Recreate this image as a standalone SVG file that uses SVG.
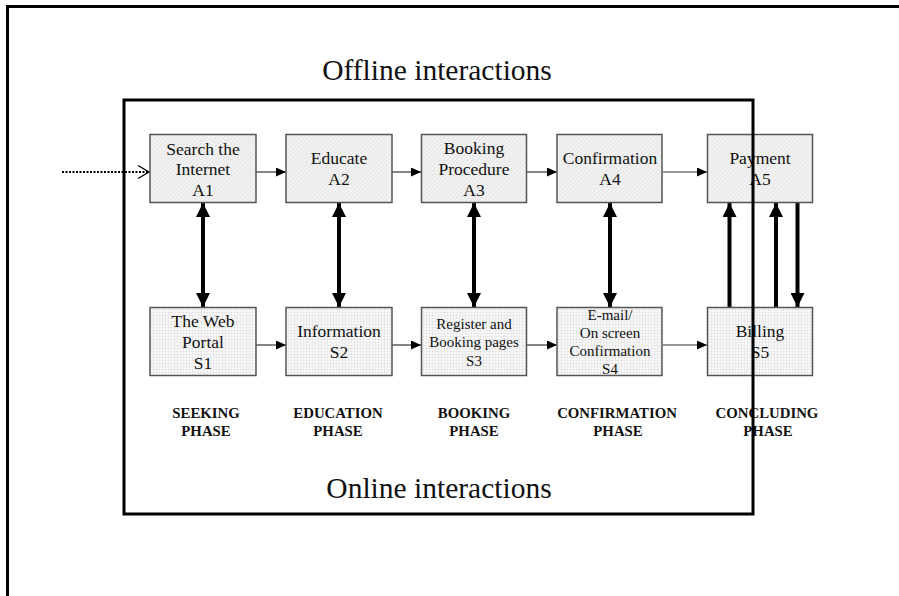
<svg xmlns="http://www.w3.org/2000/svg" width="899" height="596" viewBox="0 0 899 596">
<style>
  .t { font-family: "Liberation Serif", "Times New Roman", serif; fill: #111; text-anchor: middle; }
  .big { font-size: 17.5px; }
  .small { font-size: 15px; }
  .phase { font-family: "Liberation Serif", "Times New Roman", serif; font-size: 14.8px; font-weight: bold; fill: #111; text-anchor: middle; }
  .title { font-family: "Liberation Serif", "Times New Roman", serif; font-size: 29.5px; fill: #111; text-anchor: middle; }
  .boxA { fill: url(#hatch); stroke: #555; stroke-width: 1.5; }
  .boxS { fill: url(#grid); stroke: #555; stroke-width: 1.5; }
  .thin { stroke: #333; stroke-width: 1.2; fill: none; }
  .thick { stroke: #000; stroke-width: 4; fill: none; }
</style>
<defs>
  <pattern id="hatch" width="3" height="3" patternUnits="userSpaceOnUse" patternTransform="rotate(45)">
    <rect width="3" height="3" fill="#f3f3f3"/>
    <line x1="0" y1="0" x2="0" y2="3" stroke="#d6d6d6" stroke-width="1"/>
  </pattern>
  <pattern id="grid" width="3" height="3" patternUnits="userSpaceOnUse">
    <rect width="3" height="3" fill="#f9f9f9"/>
    <path d="M0 0H3M0 0V3" stroke="#d4d4d4" stroke-width="0.7"/>
  </pattern>
  <marker id="ah" markerUnits="userSpaceOnUse" markerWidth="10" markerHeight="9" refX="10" refY="4.5" orient="auto">
    <path d="M0,0 L10,4.5 L0,9 z" fill="#000"/>
  </marker>
  <marker id="bh" markerUnits="userSpaceOnUse" markerWidth="14" markerHeight="14" refX="14" refY="7" orient="auto-start-reverse">
    <path d="M0,0 L14,7 L0,14 z" fill="#000"/>
  </marker>
</defs>
<rect width="899" height="596" fill="#fff"/>
<path d="M7.5,596 V6.5 H899" fill="none" stroke="#000" stroke-width="3"/>
<text class="title" x="437" y="80">Offline interactions</text>

<g id="connectors">
  <line x1="62" y1="172" x2="148" y2="172" stroke="#000" stroke-width="2" stroke-dasharray="2 1.5"/>
  <polyline points="138,165.5 149,172 138,178.5" fill="none" stroke="#000" stroke-width="1.4"/>
  <line class="thin" x1="256" y1="172" x2="286" y2="172" marker-end="url(#ah)"/>
  <line class="thin" x1="392" y1="172" x2="421" y2="172" marker-end="url(#ah)"/>
  <line class="thin" x1="527" y1="172" x2="557" y2="172" marker-end="url(#ah)"/>
  <line class="thin" x1="663" y1="172" x2="707" y2="172" marker-end="url(#ah)"/>
  <line class="thin" x1="256" y1="345" x2="286" y2="345" marker-end="url(#ah)"/>
  <line class="thin" x1="392" y1="345" x2="421" y2="345" marker-end="url(#ah)"/>
  <line class="thin" x1="527" y1="345" x2="557" y2="345" marker-end="url(#ah)"/>
  <line class="thin" x1="663" y1="345" x2="707" y2="345" marker-end="url(#ah)"/>
  <line class="thick" x1="203" y1="203" x2="203" y2="307" marker-start="url(#bh)" marker-end="url(#bh)"/>
  <line class="thick" x1="339" y1="203" x2="339" y2="307" marker-start="url(#bh)" marker-end="url(#bh)"/>
  <line class="thick" x1="474" y1="203" x2="474" y2="307" marker-start="url(#bh)" marker-end="url(#bh)"/>
  <line class="thick" x1="610" y1="203" x2="610" y2="307" marker-start="url(#bh)" marker-end="url(#bh)"/>
  <line class="thick" x1="729.5" y1="307" x2="729.5" y2="203" marker-end="url(#bh)"/>
  <line class="thick" x1="776" y1="307" x2="776" y2="203" marker-end="url(#bh)"/>
  <line class="thick" x1="797.5" y1="203" x2="797.5" y2="307" marker-end="url(#bh)"/>
</g>

<g id="A1"><rect class="boxA" x="150" y="134.5" width="106" height="68"/>
  <text class="t big" x="203" y="155">Search the</text><text class="t big" x="203" y="175">Internet</text><text class="t big" x="203" y="196">A1</text></g>
<g id="A2"><rect class="boxA" x="286" y="134.5" width="106" height="68"/>
  <text class="t big" x="339" y="164">Educate</text><text class="t big" x="339" y="185">A2</text></g>
<g id="A3"><rect class="boxA" x="421.5" y="134.5" width="105" height="68"/>
  <text class="t big" x="474" y="154">Booking</text><text class="t big" x="474" y="175">Procedure</text><text class="t big" x="474" y="196">A3</text></g>
<g id="A4"><rect class="boxA" x="557" y="134.5" width="105" height="68"/>
  <text class="t big" x="610" y="164">Confirmation</text><text class="t big" x="610" y="185">A4</text></g>
<g id="A5"><rect class="boxA" x="707.5" y="134.5" width="105" height="68"/>
  <text class="t big" x="760" y="164">Payment</text><text class="t big" x="760" y="185">A5</text></g>

<g id="S1"><rect class="boxS" x="150" y="307.5" width="106" height="68"/>
  <text class="t big" x="203" y="327">The Web</text><text class="t big" x="203" y="348">Portal</text><text class="t big" x="203" y="369">S1</text></g>
<g id="S2"><rect class="boxS" x="286" y="307.5" width="106" height="68"/>
  <text class="t big" x="339" y="337">Information</text><text class="t big" x="339" y="358">S2</text></g>
<g id="S3"><rect class="boxS" x="421.5" y="307.5" width="105" height="68"/>
  <text class="t small" x="474" y="329">Register and</text><text class="t small" x="474" y="347">Booking pages</text><text class="t small" x="474" y="366">S3</text></g>
<g id="S4"><rect class="boxS" x="557" y="307.5" width="105" height="68"/>
  <text class="t small" x="610" y="320">E-mail/</text><text class="t small" x="610" y="338">On screen</text><text class="t small" x="610" y="356">Confirmation</text><text class="t small" x="610" y="374">S4</text></g>
<g id="S5"><rect class="boxS" x="707.5" y="307.5" width="105" height="68"/>
  <text class="t big" x="760" y="337">Billing</text><text class="t big" x="760" y="358">S5</text></g>

<g id="phases">
  <text class="phase" x="206" y="418">SEEKING</text><text class="phase" x="206" y="436">PHASE</text>
  <text class="phase" x="338" y="418">EDUCATION</text><text class="phase" x="338" y="436">PHASE</text>
  <text class="phase" x="474" y="418">BOOKING</text><text class="phase" x="474" y="436">PHASE</text>
  <text class="phase" x="617" y="418">CONFIRMATION</text><text class="phase" x="618" y="436">PHASE</text>
  <text class="phase" x="767" y="418">CONCLUDING</text><text class="phase" x="768" y="436">PHASE</text>
</g>

<text class="title" x="439" y="498">Online interactions</text>
<rect x="124" y="100" width="629" height="414" fill="none" stroke="#000" stroke-width="3"/>
</svg>
